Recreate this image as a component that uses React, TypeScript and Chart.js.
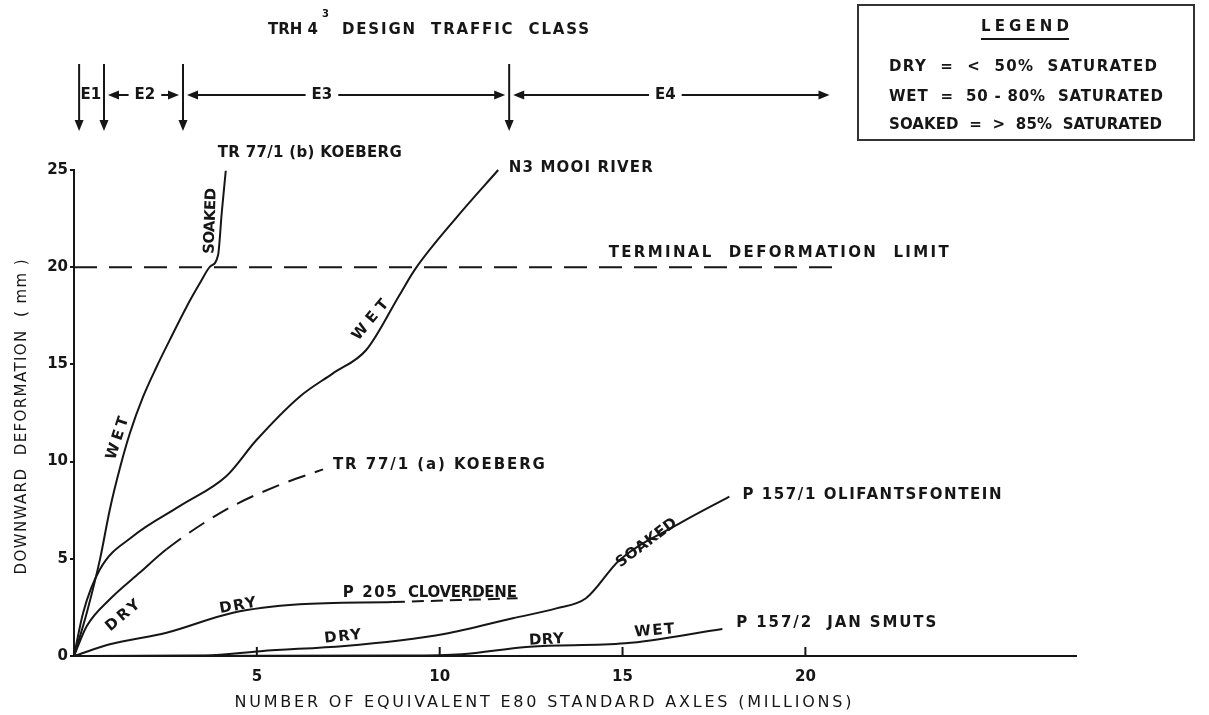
import React, { useEffect, useRef } from 'react';
import { Chart, registerables } from 'chart.js';

Chart.register(...registerables);

const FONT = '"DejaVu Sans", "Liberation Sans", sans-serif';
const INK = '#161616';

// x = millions of equivalent E80 standard axles, y = downward deformation (mm)
const koebergBX = [0, 0.35, 0.71, 0.98, 1.27, 1.53, 1.89, 2.26, 2.62, 3.08, 3.44, 3.72, 3.94, 4.04, 4.15];
const koebergBY = [0, 2.23, 4.97, 7.54, 9.77, 11.47, 13.34, 14.88, 16.26, 17.97, 19.17, 20.03, 20.63, 22.8, 24.96];

const mooiX = [0, 0.25, 0.71, 1.62, 2.9, 4.17, 4.99, 6.17, 7.08, 7.99, 8.91, 9.33, 10.48, 11.6];
const mooiY = [0, 2.23, 4.46, 6.17, 7.72, 9.26, 11.11, 13.34, 14.54, 15.74, 18.6, 19.9, 22.6, 25.0];

const koebergAX = [0, 0.35, 0.98, 1.8, 2.53, 4.17, 5.54, 6.81];
const koebergAY = [0, 1.54, 2.92, 4.29, 5.49, 7.54, 8.74, 9.6];
const koebergADashFrom = 4;

const cloverX = [0, 0.98, 2.53, 4.35, 6.17, 8.72, 12.13];
const cloverY = [0, 0.6, 1.2, 2.23, 2.66, 2.78, 2.97];
const cloverDashFrom = 5;

const olifX = [0, 3.6, 5.1, 7.4, 8.9, 10.12, 12.0, 13.19, 14.0, 14.92, 16.56, 17.92];
const olifY = [0, 0.02, 0.25, 0.52, 0.8, 1.13, 1.94, 2.45, 2.97, 4.94, 6.82, 8.2];

const janX = [0, 9.0, 10.6, 12.46, 15.07, 17.73];
const janY = [0, 0.02, 0.09, 0.48, 0.65, 1.39];

const limitX = [0, 20.75];
const limitY = [20, 20];

const xTicks = [5, 10, 15, 20];
const yTicks = [0, 5, 10, 15, 20, 25];

const classBounds = [0.14, 0.82, 2.98, 11.9, 20.66];
const classNames = ['E1', 'E2', 'E3', 'E4'];
const classLabelX = [0.46, 1.94, 6.78, 16.17];

const legendTitle = 'LEGEND';
const legendRows = ['DRY  =  <  50%  SATURATED', 'WET  =  50 - 80%  SATURATED', 'SOAKED  =  >  85%  SATURATED'];

type Lbl = { text: string; x: number; y: number; w: number; rot?: number; align?: 'left' | 'center' };
const curveLabels: Lbl[] = [
  { text: 'TR 77/1 (b) KOEBERG', x: 3.93, y: 25.87, w: 184 },
  { text: 'N3 MOOI RIVER', x: 11.89, y: 25.1, w: 144 },
  { text: 'TERMINAL  DEFORMATION  LIMIT', x: 14.62, y: 20.73, w: 340 },
  { text: 'TR 77/1 (a) KOEBERG', x: 7.08, y: 9.83, w: 212 },
  { text: 'P 205', x: 7.35, y: 3.24, w: 54 },
  { text: 'CLOVERDENE', x: 9.13, y: 3.24, w: 109 },
  { text: 'P 157/1 OLIFANTSFONTEIN', x: 18.28, y: 8.28, w: 259 },
  { text: 'P 157/2  JAN SMUTS', x: 18.11, y: 1.7, w: 200 },
  { text: 'SOAKED', x: 3.74, y: 22.38, w: 66, rot: -88, align: 'center' },
  { text: 'WET', x: 1.2, y: 11.2, w: 44, rot: -72, align: 'center' },
  { text: 'WET', x: 8.11, y: 17.28, w: 48, rot: -50, align: 'center' },
  { text: 'DRY', x: 1.34, y: 2.06, w: 40, rot: -40, align: 'center' },
  { text: 'DRY', x: 4.48, y: 2.57, w: 37, rot: -10, align: 'center' },
  { text: 'DRY', x: 7.35, y: 0.98, w: 37, rot: -6, align: 'center' },
  { text: 'DRY', x: 12.92, y: 0.82, w: 35, rot: -3, align: 'center' },
  { text: 'WET', x: 15.87, y: 1.29, w: 40, rot: -5, align: 'center' },
  { text: 'SOAKED', x: 15.66, y: 5.81, w: 72, rot: -37, align: 'center' },
];

function drawFit(ctx: CanvasRenderingContext2D, text: string, x: number, y: number, width: number, rot: number, align: string, size: number, weight = 'bold') {
  ctx.save();
  ctx.translate(x, y);
  if (rot) ctx.rotate((rot * Math.PI) / 180);
  ctx.font = `${weight} ${size}px ${FONT}`;
  ctx.textBaseline = 'middle';
  ctx.textAlign = 'left';
  (ctx as any).letterSpacing = '0px';
  const natural = ctx.measureText(text).width;
  const n = Math.max(1, text.length - 1);
  const ls = width ? (width - natural) / n : 0;
  (ctx as any).letterSpacing = `${ls}px`;
  const w = width || natural;
  const start = align === 'center' ? -w / 2 : 0;
  ctx.fillText(text, start, 0);
  (ctx as any).letterSpacing = '0px';
  ctx.restore();
}

function head(ctx: CanvasRenderingContext2D, x: number, y: number, dx: number, dy: number) {
  const L = 11, Wd = 4.5;
  const bx = x - dx * L, by = y - dy * L;
  ctx.beginPath();
  ctx.moveTo(x, y);
  ctx.lineTo(bx - dy * Wd, by + dx * Wd);
  ctx.lineTo(bx + dy * Wd, by - dx * Wd);
  ctx.closePath();
  ctx.fill();
}

const overlay = {
  id: 'overlay',
  afterDraw(chart: any) {
    const ctx: CanvasRenderingContext2D = chart.ctx;
    const xs = chart.scales.x;
    const ys = chart.scales.y;
    const area = chart.chartArea;
    ctx.save();
    ctx.fillStyle = INK;
    ctx.strokeStyle = INK;
    ctx.lineWidth = 2;

    xTicks.forEach((v) => {
      const px = xs.getPixelForValue(v);
      ctx.beginPath();
      ctx.moveTo(px, area.bottom);
      ctx.lineTo(px, area.bottom - 9);
      ctx.stroke();
    });

    curveLabels.forEach((l) => {
      drawFit(ctx, l.text, xs.getPixelForValue(l.x), ys.getPixelForValue(l.y), l.w, l.rot || 0, l.align || 'left', 15);
    });

    drawFit(ctx, 'DOWNWARD  DEFORMATION  ( mm )', 22, 417, 315, -90, 'center', 15, 'normal');
    drawFit(ctx, 'NUMBER OF EQUIVALENT E80 STANDARD AXLES (MILLIONS)', 543, 703, 617, 0, 'center', 16, 'normal');

    drawFit(ctx, 'TRH 4', 268, 30, 50, 0, 'left', 15);
    drawFit(ctx, '3', 322, 14, 0, 0, 'left', 10);
    drawFit(ctx, 'DESIGN  TRAFFIC  CLASS', 342, 30, 247, 0, 'left', 15);

    const top = 64, bottom = 131, rowY = 95;
    for (let i = 0; i < 4; i++) {
      const px = xs.getPixelForValue(classBounds[i]);
      ctx.beginPath();
      ctx.moveTo(px, top);
      ctx.lineTo(px, bottom - 8);
      ctx.stroke();
      head(ctx, px, bottom, 0, 1);
    }
    classNames.forEach((name, i) => {
      const cx = xs.getPixelForValue(classLabelX[i]);
      drawFit(ctx, name, cx, rowY, 0, 0, 'center', 15);
      if (i === 0) return;
      ctx.font = `bold 15px ${FONT}`;
      const tw = ctx.measureText(name).width;
      const bl = xs.getPixelForValue(classBounds[i]) + 4;
      const br = xs.getPixelForValue(classBounds[i + 1]) - (i === 3 ? 0 : 4);
      const gl = cx - tw / 2 - 6;
      const gr = cx + tw / 2 + 6;
      ctx.beginPath();
      ctx.moveTo(bl + 6, rowY);
      ctx.lineTo(gl, rowY);
      ctx.moveTo(gr, rowY);
      ctx.lineTo(br - 6, rowY);
      ctx.stroke();
      head(ctx, bl, rowY, -1, 0);
      head(ctx, br, rowY, 1, 0);
    });

    ctx.strokeStyle = '#333';
    ctx.lineWidth = 2;
    ctx.strokeRect(858, 5, 336, 135);
    drawFit(ctx, legendTitle, 1025, 27, 88, 0, 'center', 15);
    ctx.strokeStyle = INK;
    ctx.beginPath();
    ctx.moveTo(981, 39);
    ctx.lineTo(1069, 39);
    ctx.stroke();
    const rowYs = [67, 97, 125];
    const rowW = [268, 274, 273];
    legendRows.forEach((t, i) => drawFit(ctx, t, 889, rowYs[i], rowW[i], 0, 'left', 15));

    ctx.restore();
  },
};

function series(xsArr: number[], ysArr: number[], extra: any = {}) {
  return {
    data: xsArr.map((x, i) => ({ x, y: ysArr[i] })),
    borderColor: INK,
    borderWidth: 2,
    pointRadius: 0,
    fill: false,
    cubicInterpolationMode: 'monotone',
    clip: false,
    ...extra,
  };
}

export default function App() {
  const ref = useRef<HTMLCanvasElement>(null);
  useEffect(() => {
    if (!ref.current) return;
    const chart = new Chart(ref.current, {
      type: 'line',
      data: {
        datasets: [
          series(koebergBX, koebergBY),
          series(mooiX, mooiY),
          series(koebergAX, koebergAY, {
            segment: { borderDash: (c: any) => (c.p0DataIndex >= koebergADashFrom ? [18, 10] : undefined) },
          }),
          series(cloverX, cloverY, {
            segment: { borderDash: (c: any) => (c.p0DataIndex >= cloverDashFrom ? [12, 7] : undefined) },
          }),
          series(olifX, olifY),
          series(janX, janY),
          series(limitX, limitY, { borderDash: [23, 12], cubicInterpolationMode: 'default', tension: 0 }),
        ] as any,
      },
      options: {
        responsive: false,
        animation: false,
        devicePixelRatio: 1,
        events: [],
        layout: { padding: { left: 0, top: 170, right: 133, bottom: 0 } },
        plugins: { legend: { display: false }, tooltip: { enabled: false }, title: { display: false } },
        scales: {
          x: {
            type: 'linear',
            min: 0,
            max: 27.4,
            afterFit: (s: any) => {
              s.height = 59;
            },
            ticks: {
              stepSize: 5,
              autoSkip: false,
              maxRotation: 0,
              padding: 12,
              color: INK,
              font: { family: FONT, size: 15, weight: 'bold' },
              callback: (v: any) => (xTicks.includes(Number(v)) ? String(v) : ''),
            },
            grid: { display: false, drawTicks: false },
            border: { display: true, color: INK, width: 2 },
          },
          y: {
            type: 'linear',
            min: 0,
            max: 25,
            afterFit: (s: any) => {
              s.width = 74;
            },
            ticks: {
              stepSize: 5,
              padding: 2,
              color: INK,
              font: { family: FONT, size: 15, weight: 'bold' },
              callback: (v: any) => (yTicks.includes(Number(v)) ? String(v) : ''),
            },
            grid: { display: true, drawOnChartArea: false, drawTicks: true, tickLength: 4, color: INK, lineWidth: 2 },
            border: { display: true, color: INK, width: 2 },
          },
        },
      } as any,
      plugins: [overlay],
    });
    return () => chart.destroy();
  }, []);

  return (
    <div style={{ position: 'fixed', left: 0, top: 0, width: 1209, height: 715, background: '#fff' }}>
      <canvas ref={ref} width={1209} height={715} style={{ display: 'block' }} />
    </div>
  );
}
